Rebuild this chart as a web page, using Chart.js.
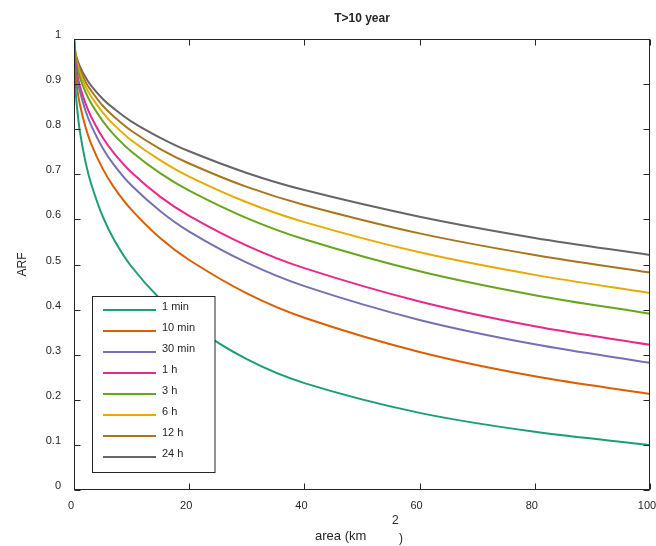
<!DOCTYPE html>
<html>
<head>
<meta charset="utf-8">
<title>ARF T>10 year</title>
<script src="https://cdn.jsdelivr.net/npm/chart.js@4.4.1/dist/chart.umd.min.js"></script>
<style>
  html, body { margin: 0; padding: 0; background: #fff; }
  #wrap { width: 656px; height: 546px; }
</style>
</head>
<body>
<div id="wrap"><canvas id="arfChart" width="656" height="546"></canvas></div>
<script>
'use strict';

// area (km2) sample points, shared by every duration curve
const areas = [0, 0.25, 0.5, 1, 2, 3, 5, 7, 10, 15, 20, 30, 40, 60, 80, 100];

const durations = ['1 min', '10 min', '30 min', '1 h', '3 h', '6 h', '12 h', '24 h'];

const arf1min  = [1, 0.893, 0.852, 0.797, 0.727, 0.678, 0.606, 0.554, 0.495, 0.423, 0.369, 0.290, 0.237, 0.171, 0.129, 0.100];
const arf10min = [1, 0.923, 0.895, 0.856, 0.805, 0.767, 0.712, 0.670, 0.621, 0.558, 0.510, 0.436, 0.382, 0.306, 0.252, 0.213];
const arf30min = [1, 0.941, 0.918, 0.885, 0.841, 0.808, 0.758, 0.720, 0.675, 0.618, 0.573, 0.504, 0.452, 0.377, 0.323, 0.282];
const arf1h    = [1, 0.948, 0.927, 0.897, 0.857, 0.827, 0.781, 0.746, 0.704, 0.650, 0.608, 0.542, 0.492, 0.418, 0.363, 0.322];
const arf3h    = [1, 0.958, 0.941, 0.916, 0.882, 0.857, 0.818, 0.787, 0.750, 0.702, 0.664, 0.603, 0.556, 0.485, 0.432, 0.391];
const arf6h    = [1, 0.963, 0.948, 0.926, 0.895, 0.872, 0.837, 0.809, 0.775, 0.731, 0.695, 0.638, 0.594, 0.527, 0.477, 0.437];
const arf12h   = [1, 0.967, 0.953, 0.933, 0.905, 0.885, 0.852, 0.827, 0.796, 0.756, 0.724, 0.672, 0.632, 0.569, 0.521, 0.482];
const arf24h   = [1, 0.970, 0.957, 0.940, 0.915, 0.896, 0.867, 0.845, 0.817, 0.781, 0.751, 0.703, 0.665, 0.606, 0.559, 0.521];

const xTicks = [0, 20, 40, 60, 80, 100];
const yTicks = [0, 0.1, 0.2, 0.3, 0.4, 0.5, 0.6, 0.7, 0.8, 0.9, 1];

const colors = ['#1b9e77', '#d95f02', '#7570b3', '#e7298a', '#66a61e', '#e6ab02', '#a6761d', '#666666'];

const series = [arf1min, arf10min, arf30min, arf1h, arf3h, arf6h, arf12h, arf24h];
const FONT = '"Liberation Sans", Arial, Helvetica, sans-serif';
const INK = '#262626';

// box, inward ticks, texts and the legend drawn in the MATLAB style
const figureDecor = {
  id: 'figureDecor',
  afterDatasetsDraw(chart) {
    const ctx = chart.ctx;
    const { left, right, top, bottom } = chart.chartArea;
    const xs = chart.scales.x, ys = chart.scales.y;
    ctx.save();

    // legend box
    const lx = 92.5, ly = 296.5, lw = 122.5, lh = 176;
    ctx.fillStyle = '#fff';
    ctx.fillRect(lx, ly, lw, lh);
    ctx.strokeStyle = INK;
    ctx.lineWidth = 1;
    ctx.strokeRect(lx, ly, lw, lh);
    ctx.font = '11px ' + FONT;
    ctx.textAlign = 'left';
    ctx.textBaseline = 'middle';
    durations.forEach((d, i) => {
      const y = 310 + i * 21;
      ctx.strokeStyle = colors[i];
      ctx.lineWidth = 2;
      ctx.beginPath();
      ctx.moveTo(103, y);
      ctx.lineTo(156, y);
      ctx.stroke();
      ctx.fillStyle = INK;
      ctx.fillText(d, 162, y - 3.5);
    });

    // axes box
    ctx.strokeStyle = INK;
    ctx.lineWidth = 1;
    const L = Math.round(left) + 0.5, R = Math.round(right) - 0.5;
    const T = Math.round(top) + 0.5, B = Math.round(bottom) - 0.5;
    ctx.strokeRect(L, T, R - L, B - T);

    // inward ticks on all four sides
    ctx.beginPath();
    xTicks.forEach(v => {
      const px = Math.round(xs.getPixelForValue(v)) + 0.5;
      ctx.moveTo(px, B); ctx.lineTo(px, B - 6);
      ctx.moveTo(px, T); ctx.lineTo(px, T + 6);
    });
    yTicks.forEach(v => {
      const py = Math.round(ys.getPixelForValue(v)) + 0.5;
      ctx.moveTo(L, py); ctx.lineTo(L + 6, py);
      ctx.moveTo(R, py); ctx.lineTo(R - 6, py);
    });
    ctx.stroke();

    // title
    ctx.fillStyle = INK;
    ctx.font = 'bold 12px ' + FONT;
    ctx.textAlign = 'center';
    ctx.textBaseline = 'alphabetic';
    ctx.fillText('T>10 year', (left + right) / 2, 22);

    // x label with the raised "2"
    ctx.font = '13px ' + FONT;
    ctx.textAlign = 'left';
    ctx.fillText('area (km', 315, 540);
    ctx.font = '12px ' + FONT;
    ctx.fillText('2', 392, 524);
    ctx.fillText(')', 399, 542);

    // y label
    ctx.translate(26, (top + bottom) / 2);
    ctx.rotate(-Math.PI / 2);
    ctx.textAlign = 'center';
    ctx.fillText('ARF', 0, 0);
    ctx.restore();
  }
};

new Chart(document.getElementById('arfChart'), {
  type: 'line',
  data: {
    datasets: series.map((vals, i) => ({
      label: durations[i],
      data: areas.map((a, j) => ({ x: a, y: vals[j] })),
      borderColor: colors[i],
      backgroundColor: colors[i],
      borderWidth: 2,
      pointRadius: 0,
      tension: 0.35,
      fill: false
    }))
  },
  options: {
    responsive: false,
    animation: false,
    layout: { padding: { top: 39, right: 6, left: 0, bottom: 0 } },
    plugins: {
      legend: { display: false },
      tooltip: { enabled: false },
      title: { display: false }
    },
    scales: {
      x: {
        type: 'linear',
        min: 0,
        max: 100,
        grid: { display: false, drawTicks: false },
        border: { display: false },
        afterBuildTicks: s => { s.ticks = xTicks.map(v => ({ value: v })); },
        afterFit: s => { s.height = 56; s.paddingLeft = 0; s.paddingRight = 0; },
        ticks: {
          color: INK,
          font: { family: FONT, size: 11 },
          padding: 9,
          labelOffset: -3,
          maxRotation: 0,
          callback: v => String(v)
        }
      },
      y: {
        min: 0,
        max: 1,
        grid: { display: false, drawTicks: false },
        border: { display: false },
        afterBuildTicks: s => { s.ticks = yTicks.map(v => ({ value: v })); },
        afterFit: s => { s.width = 74; },
        ticks: {
          color: INK,
          font: { family: FONT, size: 11 },
          padding: 13,
          labelOffset: -4,
          callback: v => String(v)
        }
      }
    }
  },
  plugins: [figureDecor]
});
</script>
</body>
</html>
